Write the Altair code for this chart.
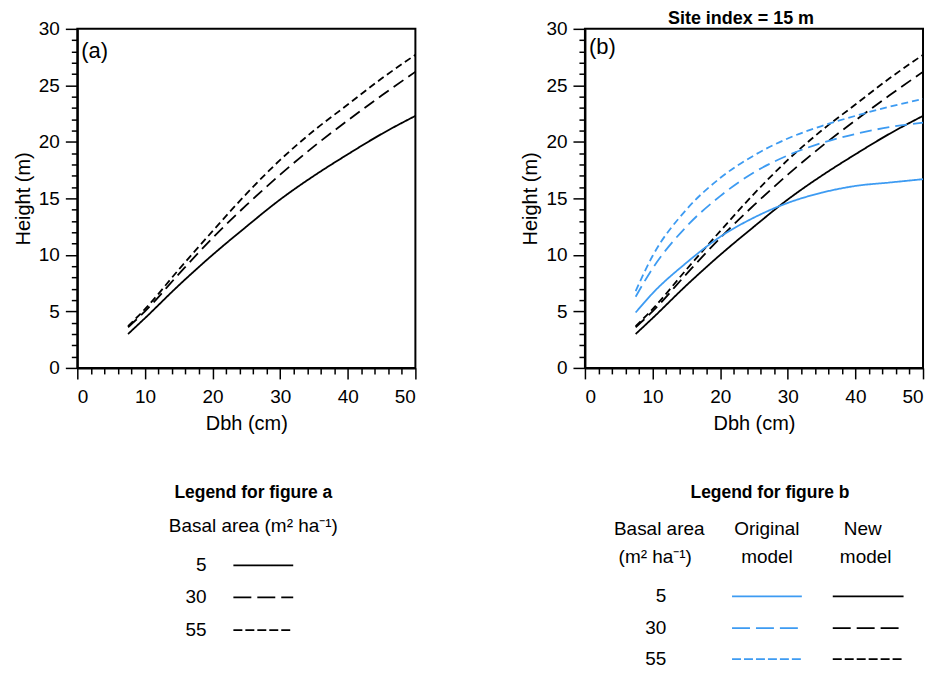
import altair as alt
import pandas as pd

# ---------------- data ----------------
dbh = [7.5, 10, 15, 20, 25, 30, 35, 40, 45, 50]
basal_areas = ["5", "30", "55"]

# New model (black curves, panels a and b)
new_5 = [3.0, 4.4, 7.3, 10.0, 12.5, 14.9, 17.0, 18.9, 20.7, 22.3]
new_30 = [3.6, 5.0, 8.3, 11.5, 14.4, 17.1, 19.6, 21.9, 24.1, 26.2]
new_55 = [3.7, 5.2, 8.7, 12.1, 15.4, 18.4, 21.0, 23.3, 25.6, 27.7]

# Original model (blue curves, panel b)
orig_5 = [4.9, 6.6, 9.3, 11.6, 13.3, 14.6, 15.5, 16.1, 16.4, 16.7]
orig_30 = [6.3, 8.8, 12.5, 15.2, 17.3, 18.8, 19.9, 20.7, 21.3, 21.7]
orig_55 = [6.8, 9.9, 14.0, 16.8, 18.8, 20.3, 21.4, 22.3, 23.1, 23.8]

models = ["New model", "Original model"]
panel_labels = ["(a)", "(b)"]
panel_b_title = "Site index = 15 m"
x_title = "Dbh (cm)"
y_title = "Height (m)"
x_ticks = list(range(0, 51, 2))
y_ticks = list(range(0, 31, 1))

legend_a_title = "Legend for figure a"
legend_a_header = "Basal area (m\u00b2 ha\u207b\u00b9)"
legend_b_title = "Legend for figure b"
legend_b_headers = [["Basal area", "(m\u00b2 ha\u207b\u00b9)"], ["Original", "model"], ["New", "model"]]

# ---------------- styling ----------------
FONT = "Liberation Sans"
BLUE = "#3d9bf2"
DASHES = [[1, 0], [12, 6], [7, 4]]
LEG_DASHES = [[1, 0], [18, 6], [9, 3]]
W, H = 339, 340


def curves(model, series):
    rows = []
    for ba, ys in zip(basal_areas, series):
        for x, y in zip(dbh, ys):
            rows.append({"dbh": x, "height": y, "ba": ba, "model": model,
                         "series": model + ba})
    return rows


df_a = pd.DataFrame(curves(models[0], [new_5, new_30, new_55]))
df_b = pd.DataFrame(curves(models[0], [new_5, new_30, new_55]) +
                    curves(models[1], [orig_5, orig_30, orig_55]))

common_axis = dict(
    labelOverlap=False, labelFont=FONT, titleFont=FONT, labelFontSize=19,
    titleFontSize=20, titleFontWeight="normal", labelColor="black",
    titleColor="black", tickColor="black", domainColor="black",
    tickWidth=1.5, domainWidth=2, grid=False,
)

x_axis = alt.Axis(
    values=x_ticks,
    labelExpr="datum.value % 10 == 0 ? datum.label : ''",
    tickSize={"condition": {"test": "datum.value % 10 == 0", "value": 11}, "value": 6},
    labelPadding=8.5, titlePadding=7, **common_axis)
y_axis = alt.Axis(
    values=y_ticks,
    labelExpr="datum.value % 5 == 0 ? datum.label : ''",
    tickSize={"condition": {"test": "datum.value % 5 == 0", "value": 12}, "value": 6},
    labelPadding=6, titlePadding=5, **common_axis)


def panel(df, label, label_y, title=None):
    lines = alt.Chart(df).mark_line(strokeWidth=1.8, interpolate="monotone").encode(
        x=alt.X("dbh:Q", scale=alt.Scale(domain=[0, 50], nice=False, zero=False),
                axis=x_axis, title=x_title),
        y=alt.Y("height:Q", scale=alt.Scale(domain=[0, 30], nice=False),
                axis=y_axis, title=y_title),
        color=alt.Color("model:N", scale=alt.Scale(domain=models, range=["black", BLUE]),
                        legend=None),
        strokeDash=alt.StrokeDash("ba:N", scale=alt.Scale(domain=basal_areas, range=DASHES),
                                  legend=None),
        detail="series:N",
    )
    layers = [lines]
    tag = alt.Chart(pd.DataFrame({"t": [label]})).mark_text(
        align="left", baseline="middle", font=FONT, fontSize=22, color="black"
    ).encode(x=alt.value(4), y=alt.value(label_y), text="t:N")
    layers.append(tag)
    if title:
        ttl = alt.Chart(pd.DataFrame({"t": [title]})).mark_text(
            align="center", baseline="alphabetic", font=FONT, fontSize=18,
            fontWeight="bold", color="black"
        ).encode(x=alt.value(W / 2 - 13), y=alt.value(-5), text="t:N")
        layers.append(ttl)
    return alt.layer(*layers).properties(
        width=W, height=H,
        view=alt.ViewBackground(stroke="black", strokeWidth=2))


pa = panel(df_a, panel_labels[0], 22)
pb = panel(df_b, panel_labels[1], 18, panel_b_title)

top = alt.hconcat(pa, pb, spacing=170, bounds="flush")

# ---------------- legends (drawn in page-like coordinates) ----------------
PANEL_TOP = 28
LX0, LX1 = 75.5, 923.5
LY0, LY1 = 470, 662
LW, LH = LX1 - LX0, LY1 - LY0
lx = alt.Scale(domain=[LX0, LX1], nice=False, zero=False)
ly = alt.Scale(domain=[LY1, LY0], nice=False, zero=False)

bold_txt = pd.DataFrame({"x": [252, 770], "y": [493, 493],
                         "t": [legend_a_title, legend_b_title]})
center_txt = pd.DataFrame({
    "x": [252, 659, 655, 767, 767, 863, 866],
    "y": [527, 530, 558, 530, 558, 530, 558],
    "t": [legend_a_header, legend_b_headers[0][0], legend_b_headers[0][1],
          legend_b_headers[1][0], legend_b_headers[1][1],
          legend_b_headers[2][0], legend_b_headers[2][1]],
})
right_txt = pd.DataFrame({
    "x": [205, 205, 205, 666, 666, 666],
    "y": [566, 598, 631, 597, 629, 660],
    "t": basal_areas + basal_areas,
})
rows = []
for ba, y in zip(basal_areas, [566, 598, 631]):
    rows.append({"x": 232, "x2": 292, "y": y, "ba": ba, "model": models[0]})
for ba, y in zip(basal_areas, [597, 629, 660]):
    rows.append({"x": 732, "x2": 802, "y": y, "ba": ba, "model": models[1]})
    rows.append({"x": 833, "x2": 904, "y": y, "ba": ba, "model": models[0]})
leg_lines = pd.DataFrame(rows)


def txt(df, **kw):
    return alt.Chart(df).mark_text(font=FONT, color="black", baseline="middle", **kw).encode(
        x=alt.X("x:Q", scale=lx, axis=None),
        y=alt.Y("y:Q", scale=ly, axis=None),
        text="t:N")


legend = alt.layer(
    txt(bold_txt, fontSize=17.5, fontWeight="bold", align="center"),
    txt(center_txt, fontSize=19, align="center"),
    txt(right_txt, fontSize=19, align="right"),
    alt.Chart(leg_lines).mark_rule(strokeWidth=1.8).encode(
        x=alt.X("x:Q", scale=lx, axis=None), x2="x2:Q",
        y=alt.Y("y:Q", scale=ly, axis=None),
        color=alt.Color("model:N", scale=alt.Scale(domain=models, range=["black", BLUE]),
                        legend=None),
        strokeDash=alt.StrokeDash("ba:N", scale=alt.Scale(domain=basal_areas, range=LEG_DASHES),
                                  legend=None),
    ),
).properties(width=LW, height=LH, view=alt.ViewBackground(stroke=None))

chart = alt.vconcat(top, legend, spacing=LY0 - PANEL_TOP, bounds="flush").properties(
    padding={"left": 3.5, "top": 0, "right": 0, "bottom": 0}
).resolve_scale(color="independent", strokeDash="independent")

chart.save("out.html", embed_options={"renderer": "svg", "actions": False})
